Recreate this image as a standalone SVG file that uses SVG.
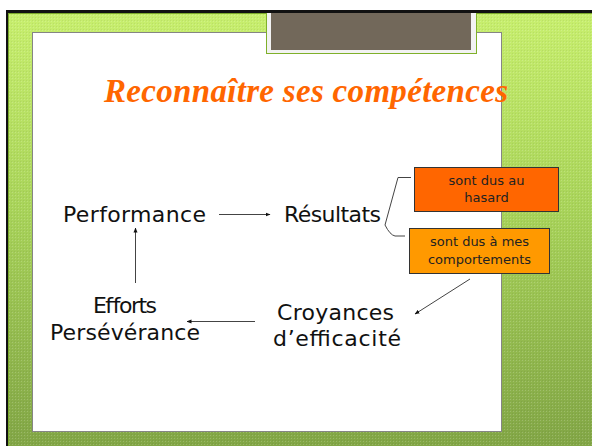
<svg xmlns="http://www.w3.org/2000/svg" width="592" height="446" viewBox="0 0 592 446">
<style>
.t{font-family:"DejaVu Sans","Liberation Sans",sans-serif;font-size:22px;fill:#111}
.s{font-family:"DejaVu Sans","Liberation Sans",sans-serif;font-size:13px;fill:#222;text-anchor:middle}
.c{stroke:#444;stroke-width:1;fill:none}
</style>
<defs>
<linearGradient id="g" x1="0" y1="0" x2="0" y2="1">
<stop offset="0" stop-color="#c8ef6e"/>
<stop offset="0.45" stop-color="#a9d45a"/>
<stop offset="1" stop-color="#82a646"/>
</linearGradient>
<pattern id="p" width="3" height="3" patternUnits="userSpaceOnUse">
<rect width="1" height="1" fill="#ffffff" opacity="0.18"/>
<rect x="2" y="2" width="1" height="1" fill="#000" opacity="0.06"/>
</pattern>
<marker id="a" viewBox="0 0 10 10" refX="9" refY="5" markerWidth="5" markerHeight="5" orient="auto">
<path d="M0,1 L10,5 L0,9 z" fill="#111"/>
</marker>
</defs>
<g id="background">
<rect x="0" y="0" width="592" height="446" fill="#ffffff"/>
<rect x="7" y="11" width="585" height="435" fill="url(#g)"/>
<rect x="7" y="11" width="585" height="435" fill="url(#p)"/>
<rect x="8.5" y="13.5" width="590" height="440" fill="none" stroke="#7aa82a" stroke-width="1"/>
<rect x="6" y="10" width="586" height="3" fill="#111"/>
<rect x="6" y="10" width="2" height="436" fill="#111"/>
<rect x="32.5" y="32.5" width="469" height="399" fill="#ffffff" stroke="#858585" stroke-width="1"/>
<rect x="266.5" y="11" width="210" height="42.5" fill="#f2f2f2" stroke="#7fb02a" stroke-width="1"/>
<rect x="271" y="13" width="200" height="37" fill="#72685a"/>
<rect x="266" y="10" width="211" height="3" fill="#111"/>
</g>
<g id="title">
<text x="306" y="102" text-anchor="middle" font-family="'Liberation Serif',serif" font-weight="bold" font-style="italic" font-size="33" fill="#ff6600" textLength="404">Reconnaître ses compétences</text>
</g>
<g id="connectors">
<line class="c" x1="219" y1="214.5" x2="270" y2="214.5" marker-end="url(#a)"/>
<line class="c" x1="135.5" y1="283" x2="135.5" y2="228" marker-end="url(#a)"/>
<line class="c" x1="255" y1="321.5" x2="187" y2="321.5" marker-end="url(#a)"/>
<line class="c" x1="470" y1="279" x2="415" y2="314" marker-end="url(#a)"/>
<path class="c" d="M411,177.5 L398,177.5 L385,225 Q390,235 395,236 L405,236" stroke="#555"/>
</g>
<g id="performance"><text class="t" x="63" y="222" textLength="143">Performance</text></g>
<g id="resultats"><text class="t" x="284" y="222" textLength="97">Résultats</text></g>
<g id="hasard">
<rect x="414.5" y="167.5" width="144" height="44" fill="#ff6600" stroke="#333" stroke-width="1"/>
<text class="s" x="486.5" y="185">sont dus au</text>
<text class="s" x="486.5" y="202">hasard</text>
</g>
<g id="comportements">
<rect x="409.5" y="228.5" width="140" height="45" fill="#ff9900" stroke="#333" stroke-width="1"/>
<text class="s" x="479.5" y="246">sont dus à mes</text>
<text class="s" x="479.5" y="264">comportements</text>
</g>
<g id="croyances">
<text class="t" x="277" y="320" textLength="117">Croyances</text>
<text class="t" x="273" y="346" textLength="128">d’efficacité</text>
</g>
<g id="efforts">
<text class="t" x="93" y="313" textLength="64">Efforts</text>
<text class="t" x="50" y="340" textLength="150">Persévérance</text>
</g>
</svg>
